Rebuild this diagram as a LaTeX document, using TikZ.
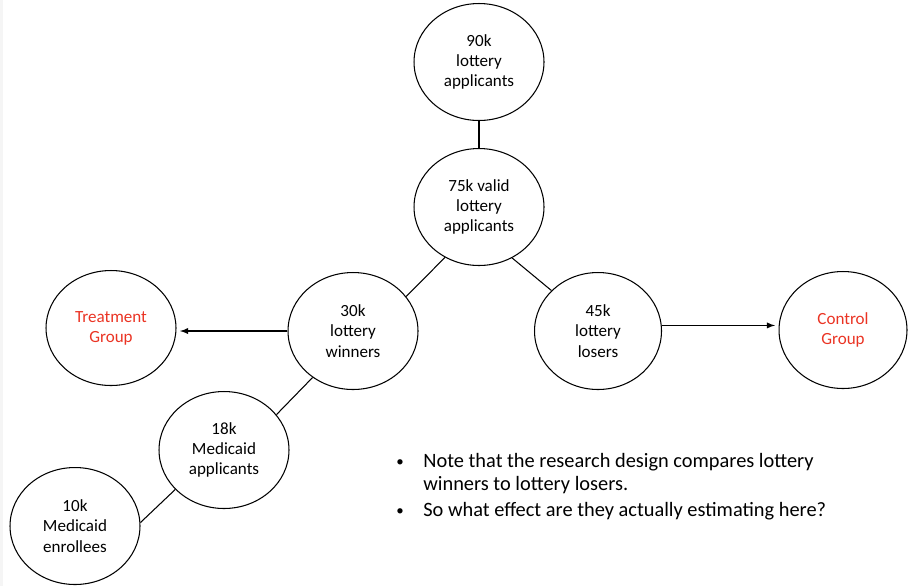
\documentclass[tikz,border=0pt]{standalone}
\usepackage{fontspec}
\setmainfont{Carlito}
\usetikzlibrary{shapes.geometric}
\definecolor{grpred}{RGB}{234,51,35}

\begin{document}
\begin{tikzpicture}[x=0.02cm,y=-0.02cm,
    bubble/.style={ellipse, draw, line width=0.6pt, inner sep=0pt,
      minimum width=2.6cm, minimum height=2.34cm, align=center,
      font=\fontsize{9.7}{11.5}\selectfont},
    group/.style={bubble, text=grpred},
    link/.style={line width=0.6pt},
    note/.style={anchor=base west, inner sep=0pt, font=\fontsize{11.6}{13}\selectfont},
    dot/.style={anchor=base, inner sep=0pt, font=\fontsize{8.5}{10}\selectfont}]
    \useasboundingbox (0,0) rectangle (908,586);
    \fill[gray!8] (0,0) rectangle (3,586);
    % draw ellipses
    \node[bubble] (n90) at (479,62) {90k\\lottery\\applicants};
    \node[bubble] (n75) at (479,207) {75k valid\\lottery\\applicants};
    \node[bubble] (n30) at (353,331) {30k\\lottery\\winners};
    \node[bubble, minimum width=2.54cm] (n45) at (598,331) {45k\\lottery\\losers};
    \node[group, minimum height=2.3cm] (treat) at (111,328) {Treatment\\Group};
    \node[group, minimum width=2.56cm] (ctrl) at (843,330) {Control\\Group};
    \node[bubble] (n18) at (224,450) {18k\\Medicaid\\applicants};
    \node[bubble] (n10) at (75,526) {10k\\Medicaid\\enrollees};

    % draw lines
    \draw[link] (n90.south) -- (n75.north);
    \draw[link] (n75.236) -- (n30.33);
    \draw[link] (n75.303) -- (n45.139);
    \draw[link] (n30.229) -- (n18.34);
    \draw[link] (n18.219) -- (n10.3);
    \draw[link,-latex,shorten >=2pt] (n30.west) -- (n30.west -| treat.east);
    \draw[link,-latex,shorten >=2pt] (n45.5) -- (n45.5 -| ctrl.west);

    % bullets
    \node[dot] (d1) at (400,466) {\textbullet};
    \node[note] (t1) at (423,467) {Note that the research design compares lottery};
    \node[note] (t2) at (423,490) {winners to lottery losers.};
    \node[dot] (d2) at (400,515) {\textbullet};
    \node[note] (t3) at (423,516) {So what effect are they actually estimating here?};
\end{tikzpicture}
\end{document}
